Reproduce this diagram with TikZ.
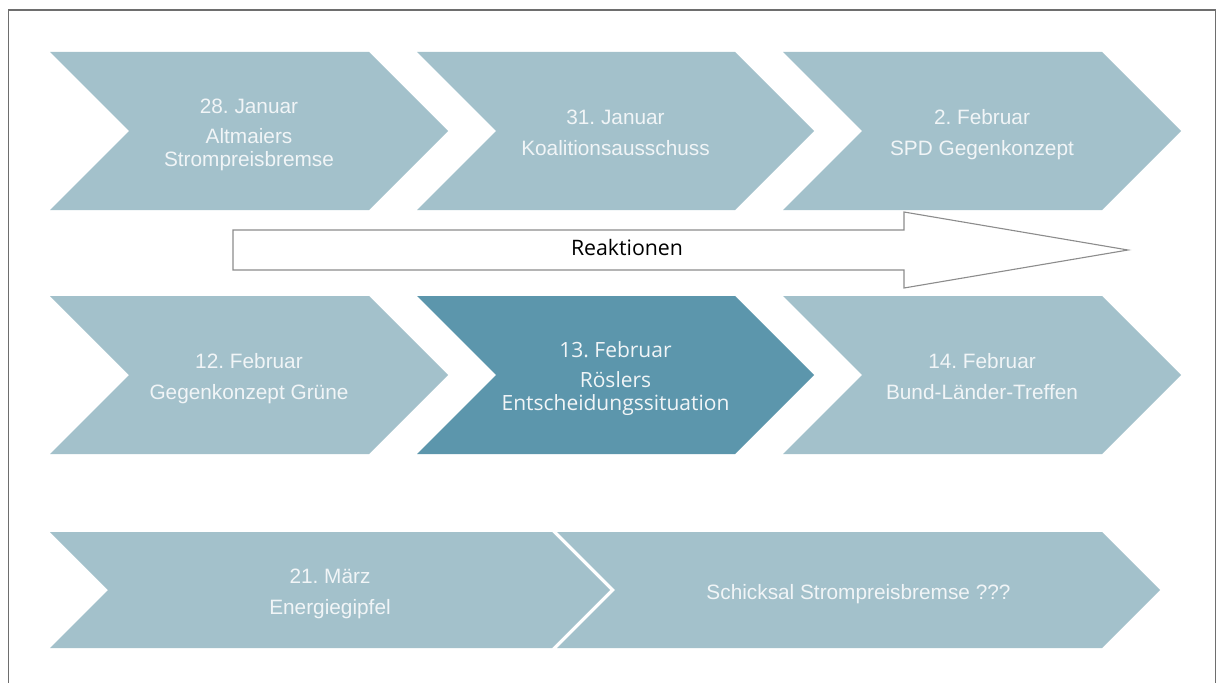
\documentclass[tikz,border=0pt]{standalone}
\usepackage{fontspec}
\setmainfont{Liberation Sans}
\newfontfamily\humfont{Open Sans}
\frenchspacing
\definecolor{chevlight}{RGB}{163,193,203}
\definecolor{chevdark}{RGB}{92,150,172}
\definecolor{chevtext}{RGB}{241,245,247}
\definecolor{framegray}{RGB}{110,110,110}
\definecolor{arrowgray}{RGB}{140,140,140}
\newcommand\chtop{\rule{0pt}{15pt}}
\newcommand\chbot{\rule[-5pt]{0pt}{5pt}}
\newcommand\chevshape[5]{%
  \pgfmathsetmacro\chh{(#4-#2)/2}%
  \fill[#5] (#1,#2) -- (#3,#2) -- ({#3+\chh},{#2+\chh}) -- (#3,#4) -- (#1,#4) -- ({#1+\chh},{#2+\chh}) -- cycle;}
\begin{document}
\begin{tikzpicture}[x=1pt,y=-1pt,
  lightchev/.style={fill=chevlight},
  darkchev/.style={fill=chevdark},
  chevlabel/.style={text=chevtext, align=center, inner sep=0pt, font=\frenchspacing\fontsize{20.8}{23}\selectfont},
  darklabel/.style={chevlabel, font=\frenchspacing\humfont\fontsize{21}{23}\selectfont},
  framebox/.style={draw=framegray, line width=1.3pt},
  bigarrow/.style={draw=arrowgray, line width=1.1pt, fill=white, line join=miter},
  arrowlabel/.style={font=\humfont\fontsize{21.3}{24}\selectfont, text=black, inner sep=0pt}]
\useasboundingbox (0,0) rectangle (1222,682);
\clip (0,0) rectangle (1222,682);
\fill[white] (0,0) rectangle (1222,682);
\draw[framebox] (8.5,10) rectangle (1215.5,700);
% row 1
\chevshape{50}{52}{369}{210}{lightchev}
\chevshape{417}{52}{735}{210}{lightchev}
\chevshape{783}{52}{1102}{210}{lightchev}
\node[chevlabel] (jan28) at (249,135) {\chtop 28. Januar\\[7.7pt]Altmaiers\\Strompreisbremse\chbot};
\node[chevlabel] (jan31) at (615.5,135) {\chtop 31. Januar\\[7.7pt]Koalitionsausschuss\chbot};
\node[chevlabel] (feb2) at (982,135) {\chtop 2. Februar\\[7.7pt]SPD Gegenkonzept\chbot};
% arrow
\draw[bigarrow] (233,230) -- (904,230) -- (904,212) -- (1128,250) -- (904,288) -- (904,270) -- (233,270) -- cycle;
\node[arrowlabel, anchor=base] (reakt) at (627,255) {Reaktionen};
% row 2
\chevshape{50}{296}{369}{454}{lightchev}
\chevshape{417}{296}{735}{454}{darkchev}
\chevshape{783}{296}{1102}{454}{lightchev}
\node[chevlabel] (feb12) at (249,379) {\chtop 12. Februar\\[7.7pt]Gegenkonzept Grüne\chbot};
\node[darklabel] (feb13) at (615.5,379) {\chtop 13. Februar\\[7pt]Röslers\\Entscheidungssituation\chbot};
\node[chevlabel] (feb14) at (982,379) {\chtop 14. Februar\\[7.7pt]Bund-Länder-Treffen\chbot};
% row 3
\chevshape{50}{532}{552}{648}{lightchev}
\chevshape{557}{532}{1102}{648}{lightchev}
\node[chevlabel] (mar21) at (330,594) {\chtop 21. März\\[7.7pt]Energiegipfel\chbot};
\node[chevlabel] (fate) at (858.5,594) {\chtop Schicksal Strompreisbremse ???\chbot};
\end{tikzpicture}
\end{document}
